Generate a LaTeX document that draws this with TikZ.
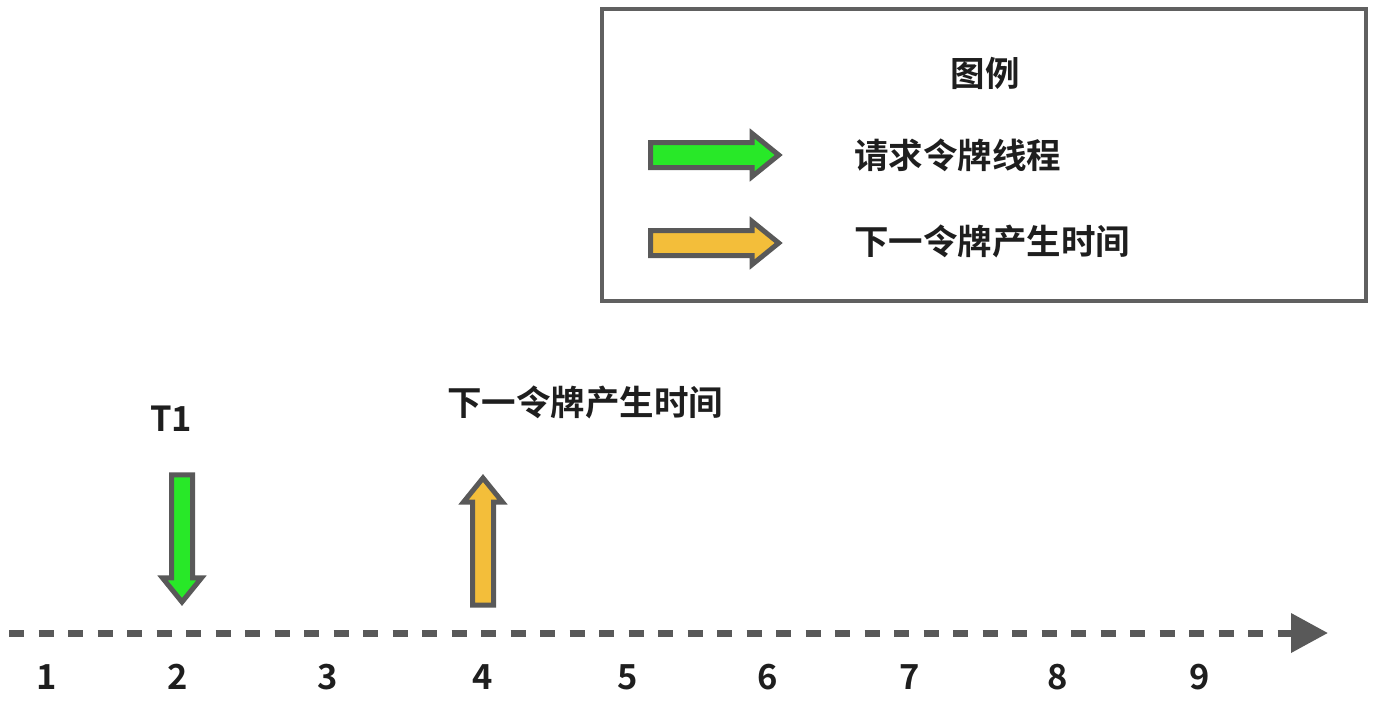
\documentclass[tikz,border=0pt]{standalone}
\usepackage{fontspec}
\newfontfamily\cjk{Noto Sans CJK SC}[BoldFont={Noto Sans CJK SC Bold}]
\definecolor{darkgray}{RGB}{89,89,89}
\definecolor{boxgray}{RGB}{96,96,96}
\definecolor{tokengreen}{RGB}{40,232,40}
\definecolor{tokenorange}{RGB}{243,190,58}
\definecolor{inkblack}{RGB}{30,30,30}
\usetikzlibrary{shapes,arrows,positioning,calc,arrows.meta}

\begin{document}
\begin{tikzpicture}[x=1pt,y=-1pt,
  lbl/.style={font=\cjk\bfseries\fontsize{34.5}{38}\selectfont,text=inkblack,inner sep=0pt},
  blk/.style={single arrow,draw=darkgray,line width=5pt,inner sep=0pt,
    single arrow head extend=9pt,single arrow tip angle=78,minimum height=128pt,
    minimum width=20pt},
  timeline/.style={draw=darkgray,line width=7pt,dash pattern=on 15pt off 14.5pt,
    -{Triangle[length=37pt,width=38pt]}}]
  \useasboundingbox (0,0) rectangle (1380,725);
  % legend
  \node[draw=boxgray,line width=4pt,minimum width=764pt,minimum height=292pt,inner sep=0pt]
    (legend) at (984,155) {};
  \node[lbl] (title) at (985,73) {图例};
  \node[blk,fill=tokengreen,inner sep=10pt] (lgreen) at (707,155) {};
  \node[blk,fill=tokenorange,inner sep=10pt] (lorange) at (707,243) {};
  \node[lbl,anchor=west] (tgreen) at (854,155) {请求令牌线程};
  \node[lbl,anchor=west] (torange) at (854,241) {下一令牌产生时间};
  % time axis
  \coordinate (axstart) at (9,633);
  \coordinate (axend) at (1328,633);
  \draw[timeline] (axstart)--(axend);
  \foreach \n/\x in {1/47,2/178,3/328,4/483,5/628,6/768,7/910,8/1058,9/1200}
    \node[lbl] (t\n) at (\x,677) {\n};
  \node[lbl] (T1) at (171,419) {T1};
  \node[lbl] (next) at (585,402) {下一令牌产生时间};
  \node[blk,fill=tokengreen,inner sep=8pt,minimum height=127pt,shape border rotate=270]
    (req) at (182,532) {};
  \node[blk,fill=tokenorange,inner sep=8pt,minimum height=127pt,shape border rotate=90]
    (gen) at (483,548) {};
\end{tikzpicture}
\end{document}
